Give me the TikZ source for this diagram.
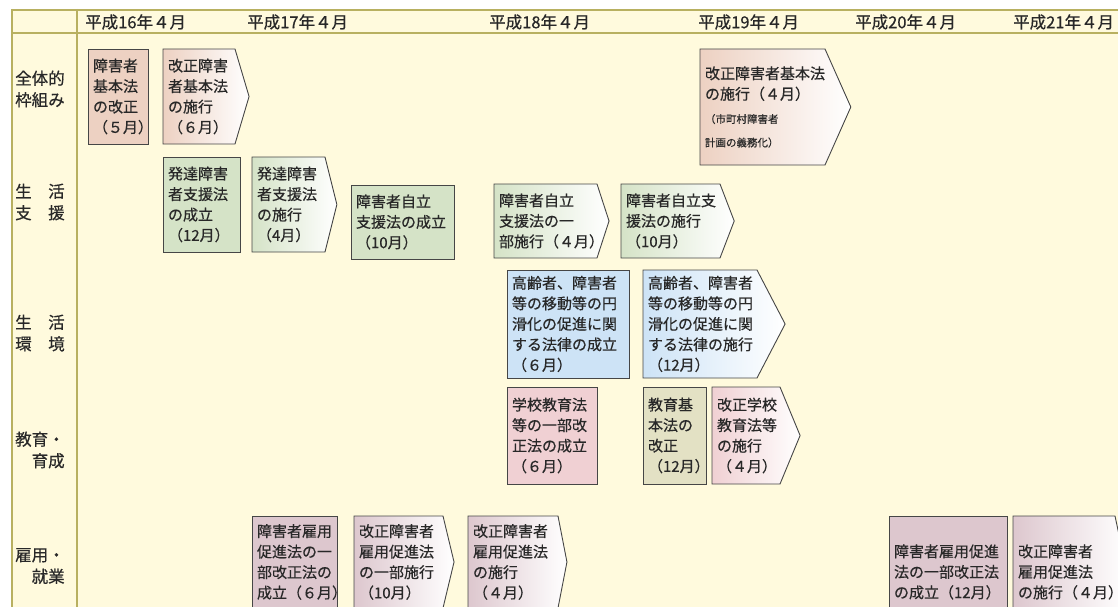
\documentclass[tikz,border=0pt]{standalone}
\usepackage{fontspec}
\setmainfont{Noto Sans CJK JP}[FakeBold=0.5]
\usepackage{tikz}
\usetikzlibrary{shapes, positioning}

\definecolor{cream}{RGB}{255,250,221}
\definecolor{frameline}{RGB}{184,176,96}
\definecolor{boxline}{RGB}{70,70,70}
\definecolor{textgray}{RGB}{40,40,40}
\definecolor{salmon}{RGB}{237,209,194}
\definecolor{leafgreen}{RGB}{213,227,199}
\definecolor{skyblue}{RGB}{205,227,246}
\definecolor{rosepink}{RGB}{240,208,211}
\definecolor{khaki}{RGB}{227,225,196}
\definecolor{mauve}{RGB}{221,199,206}

\newcommand{\boxfont}{\fontsize{15}{20.5}\selectfont}
\newcommand{\labfont}{\fontsize{16.5}{21.5}\selectfont}
\newcommand{\notefont}{\fontsize{10.5}{14}\selectfont}

\tikzset{
  boxbase/.style={draw=boxline, line width=0.9pt, anchor=north west, inner xsep=5pt, inner ysep=0pt, outer sep=0pt, align=left, text=textgray, font=\boxfont},
  lawbox/.style n args={3}{boxbase, rectangle, fill=#1, text width=#2, minimum height=#3},
  lawarrow/.style n args={4}{boxbase, signal, signal to=east, left color=#1, right color=white, text width=#2, minimum height=#3, signal pointer angle=#4},
  rowlabel/.style={anchor=west, align=left, inner sep=0pt, text=textgray, font=\labfont},
  yearlabel/.style={anchor=west, inner sep=0pt, text=textgray, font=\labfont}
}

\begin{document}
\begin{tikzpicture}[x=1pt, y=-1pt]
  \clip (0,0) rectangle (1118,607);
  % Rahmen
  \fill[cream] (12,10) rectangle (1118,607);
  \draw[frameline, line width=2.2pt] (12,10) -- (1120,10);
  \draw[frameline, line width=2pt] (12,33) -- (1120,33);
  \draw[frameline, line width=2pt] (12,9) -- (12,610);
  \draw[frameline, line width=2pt] (77,9) -- (77,610);

  % Jahre
  \node[yearlabel] (h16) at (85,22) {平成16年４月};
  \node[yearlabel] (h17) at (247,22) {平成17年４月};
  \node[yearlabel] (h18) at (489,22) {平成18年４月};
  \node[yearlabel] (h19) at (698,22) {平成19年４月};
  \node[yearlabel] (h20) at (855,22) {平成20年４月};
  \node[yearlabel] (h21) at (1013,22) {平成21年４月};

  % Zeilen
  \node[rowlabel] (zentai) at (15,89) {全体的\\枠組み};
  \node[rowlabel] (shien) at (15,202) {生　活\\支　援};
  \node[rowlabel] (kankyo) at (15,333) {生　活\\環　境};
  \node[rowlabel] (ikusei) at (15,450) {教育・\\　育成};
  \node[rowlabel] (shugyo) at (15,566) {雇用・\\　就業};

  % 全体的枠組み
  \node[lawbox={salmon}{50pt}{95pt}] (kihon) at (88,49) {障害者\\基本法\\の改正\\（５月）};
  \node[lawarrow={salmon}{62pt}{95pt}{147}] (kihonShiko) at (163,49) {改正障害\\者基本法\\の施行\\（６月）};
  \node[lawarrow={salmon}{115pt}{116pt}{132}] (kihonShiko2) at (700,49) {改正障害者基本法\\の施行（４月）\\[3pt]{\notefont （市町村障害者}\\[3pt]{\notefont 計画の義務化）}};

  % 生活支援
  \node[lawbox={leafgreen}{67pt}{95pt}] (hattatsu) at (163,157) {発達障害\\者支援法\\の成立\\（12月）};
  \node[lawarrow={leafgreen}{63pt}{95pt}{152}] (hattatsuShiko) at (252,157) {発達障害\\者支援法\\の施行\\（4月）};
  \node[lawbox={leafgreen}{93pt}{74pt}] (jiritsu) at (351,185) {障害者自立\\支援法の成立\\（10月）};
  \node[lawarrow={leafgreen}{93pt}{74pt}{144}] (jiritsuIchibu) at (494,184) {障害者自立\\支援法の一\\部施行（４月）};
  \node[lawarrow={leafgreen}{89pt}{74pt}{138}] (jiritsuShiko) at (621,184) {障害者自立支\\援法の施行\\（10月）};

  % 生活環境
  \node[lawbox={skyblue}{112pt}{108pt}] (idou) at (507,270) {高齢者、障害者\\等の移動等の円\\滑化の促進に関\\する法律の成立\\（６月）};
  \node[lawarrow={skyblue}{104pt}{108pt}{125}] (idouShiko) at (643,270) {高齢者、障害者\\等の移動等の円\\滑化の促進に関\\する法律の施行\\（12月）};

  % 教育・育成
  \node[lawbox={rosepink}{80pt}{97pt}] (gakko) at (507,387) {学校教育法\\等の一部改\\正法の成立\\（６月）};
  \node[lawbox={khaki}{53pt}{97pt}] (kyoiku) at (643,387) {教育基\\本法の\\改正\\（12月）};
  \node[lawarrow={rosepink}{58pt}{97pt}{135}] (gakkoShiko) at (712,387) {改正学校\\教育法等\\の施行\\（４月）};

  % 雇用・就業
  \node[lawbox={mauve}{75pt}{92pt}] (koyo) at (252,516) {障害者雇用\\促進法の一\\部改正法の\\成立（６月）};
  \node[lawarrow={mauve}{79pt}{92pt}{153}] (koyoIchibu) at (354,516) {改正障害者\\雇用促進法\\の一部施行\\（10月）};
  \node[lawarrow={mauve}{80pt}{92pt}{158}] (koyoShiko) at (468,516) {改正障害者\\雇用促進法\\の施行\\（４月）};
  \node[lawbox={mauve}{108pt}{112pt}] (koyo2) at (889,516) {障害者雇用促進\\法の一部改正法\\の成立（12月）};
  \node[lawarrow={mauve}{92pt}{112pt}{156}] (koyoShiko2) at (1013,516) {改正障害者\\雇用促進法\\の施行（４月）};
\end{tikzpicture}
\end{document}
